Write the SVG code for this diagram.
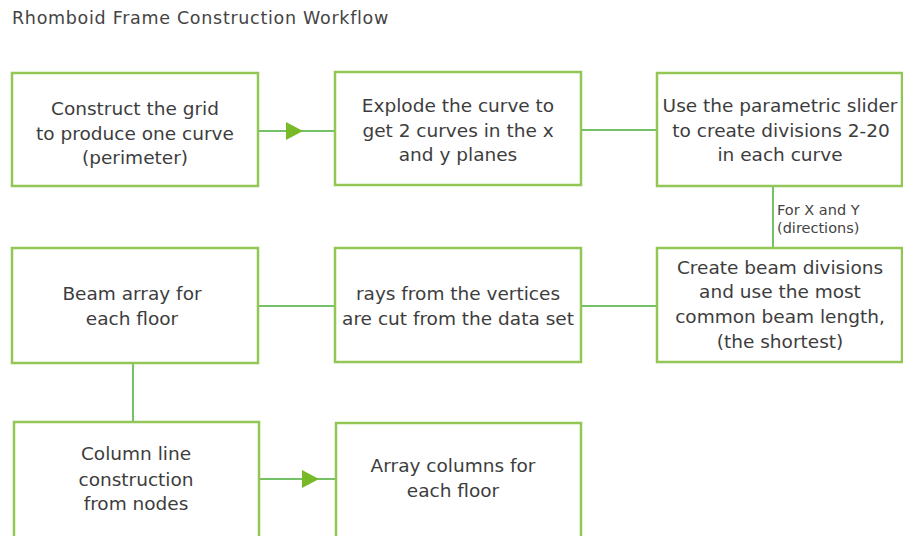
<svg xmlns="http://www.w3.org/2000/svg" width="903" height="536" viewBox="0 0 903 536">
<defs>
<style>
.box{fill:#ffffff;stroke:#92c655;stroke-width:2.5}
.t{font-family:"DejaVu Sans","Liberation Sans",sans-serif;font-size:18.5px;fill:#3d3d3d;text-anchor:middle}
.title{font-family:"DejaVu Sans","Liberation Sans",sans-serif;font-size:17.5px;letter-spacing:0.7px;fill:#444444}
.lbl{font-family:"DejaVu Sans","Liberation Sans",sans-serif;font-size:14.5px;fill:#444444}
.c{stroke:#74c166;stroke-width:2;fill:none}
.ah{fill:#78b928}
</style>
</defs>
<rect width="903" height="536" fill="#ffffff"/>
<text class="title" x="12" y="24">Rhomboid Frame Construction Workflow</text>
<g id="connectors">
<line class="c" x1="258" y1="131" x2="335" y2="131"/>
<polygon class="ah" points="286,122 303,131 286,140"/>
<line class="c" x1="581" y1="130" x2="657" y2="130"/>
<line class="c" x1="773" y1="186" x2="773" y2="248"/>
<text class="lbl" x="777" y="215">For X and Y</text>
<text class="lbl" x="777" y="233">(directions)</text>
<line class="c" x1="581" y1="306" x2="657" y2="306"/>
<line class="c" x1="258" y1="306" x2="335" y2="306"/>
<line class="c" x1="133" y1="363" x2="133" y2="422"/>
<line class="c" x1="259" y1="479" x2="336" y2="479"/>
<polygon class="ah" points="302,470 319,479 302,488"/>
</g>
<g id="n1">
<rect class="box" x="12" y="73" width="246" height="113"/>
<text class="t" x="135" y="115">Construct the grid</text>
<text class="t" x="135" y="140">to produce one curve</text>
<text class="t" x="135" y="164">(perimeter)</text>
</g>
<g id="n2">
<rect class="box" x="335" y="72" width="246" height="113"/>
<text class="t" x="458" y="112">Explode the curve to</text>
<text class="t" x="458" y="137">get 2 curves in the x</text>
<text class="t" x="458" y="161">and y planes</text>
</g>
<g id="n3">
<rect class="box" x="657" y="73" width="245" height="113"/>
<text class="t" x="780" y="112">Use the parametric slider</text>
<text class="t" x="781" y="137">to create divisions 2-20</text>
<text class="t" x="780" y="161">in each curve</text>
</g>
<g id="n4">
<rect class="box" x="12" y="248" width="246" height="115"/>
<text class="t" x="132" y="300">Beam array for</text>
<text class="t" x="132" y="325">each floor</text>
</g>
<g id="n5">
<rect class="box" x="335" y="248" width="246" height="114"/>
<text class="t" x="458" y="300">rays from the vertices</text>
<text class="t" x="458" y="325">are cut from the data set</text>
</g>
<g id="n6">
<rect class="box" x="657" y="248" width="245" height="114"/>
<text class="t" x="780" y="274">Create beam divisions</text>
<text class="t" x="780" y="298">and use the most</text>
<text class="t" x="780" y="323">common beam length,</text>
<text class="t" x="780" y="348">(the shortest)</text>
</g>
<g id="n7">
<rect class="box" x="14" y="422" width="245" height="125"/>
<text class="t" x="136" y="460">Column line</text>
<text class="t" x="136" y="486">construction</text>
<text class="t" x="136" y="510">from nodes</text>
</g>
<g id="n8">
<rect class="box" x="336" y="423" width="245" height="125"/>
<text class="t" x="453" y="472">Array columns for</text>
<text class="t" x="453" y="497">each floor</text>
</g>
</svg>
